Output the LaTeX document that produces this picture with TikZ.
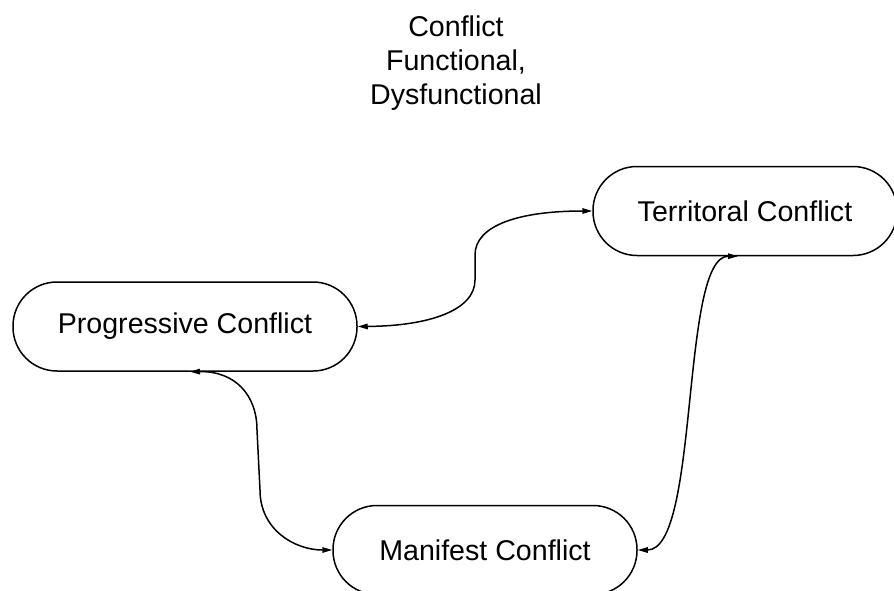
\documentclass[tikz,border=0pt]{standalone}
\usepackage{fontspec}
\setmainfont{Liberation Sans}
\usetikzlibrary{arrows.meta}
\begin{document}
\begin{tikzpicture}[x=1pt,y=-1pt,
  box/.style={draw, line width=1.5pt, rounded corners=44pt, minimum height=89pt, inner sep=0pt, font=\fontsize{28.6}{32}\selectfont},
  link/.style={line width=1.5pt, {Triangle[length=10pt,width=5.5pt]}-{Triangle[length=10pt,width=5.5pt]}},
  titlestyle/.style={align=center, font=\fontsize{28.6}{34}\selectfont}]
\useasboundingbox (0,0) rectangle (894,591);
\node[titlestyle] (title) at (456,63) {Conflict\\Functional,\\Dysfunctional};
\node[box, minimum width=344pt] (P) at (185,326.5) {Progressive Conflict};
\node[box, minimum width=304pt] (T) at (745,211) {Territoral Conflict};
\node[box, minimum width=304pt] (M) at (485,550) {Manifest Conflict};
\draw[link] (P.east) .. controls (430,326) and (475,310) .. (475,280) -- (475,255) .. controls (475,225) and (520,211) .. (T.west);
\draw[link] ([xshift=5pt]P.south) .. controls (235,371) and (257,395) .. (257,430) -- (260,490) .. controls (260,530) and (295,550) .. (M.west);
\draw[link] ([xshift=-7pt]T.south) .. controls (680,256) and (700,550) .. (M.east);
\end{tikzpicture}
\end{document}
